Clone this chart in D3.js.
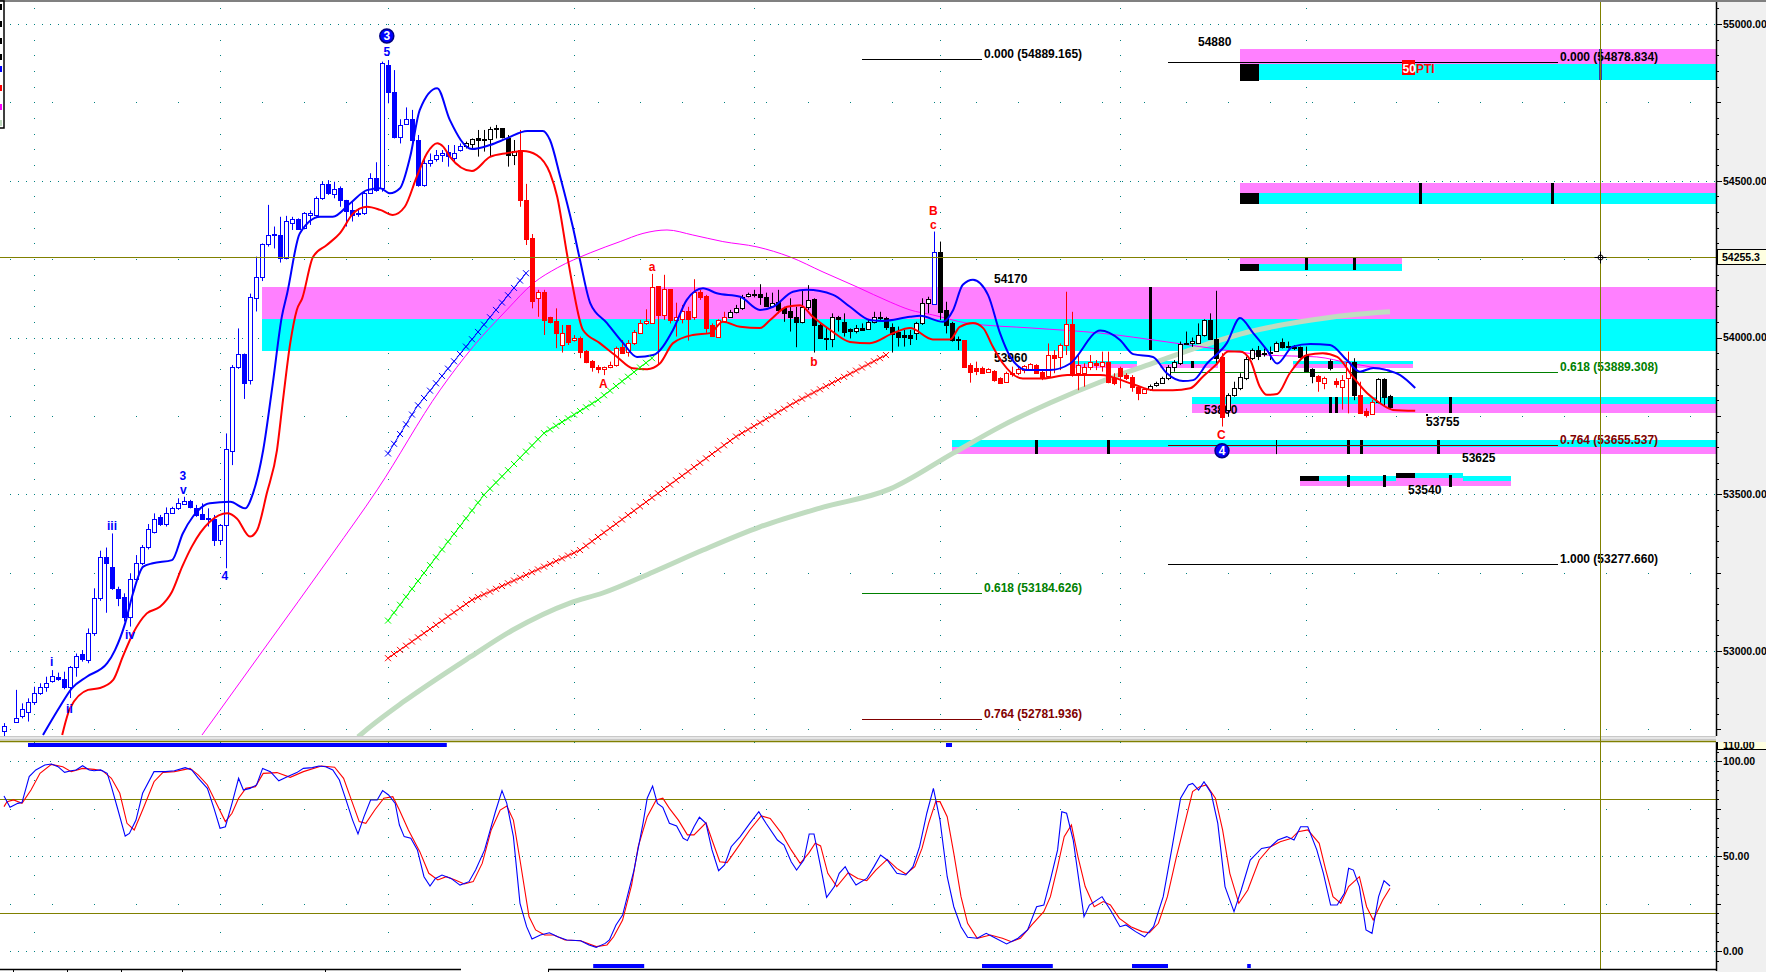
<!DOCTYPE html>
<html>
<head>
<meta charset="utf-8">
<script src="https://cdn.jsdelivr.net/npm/d3@7"></script>
<style>
body { margin:0; background:#fff; overflow:hidden; }
text { font-family:"Liberation Sans", Arial, sans-serif; font-weight:bold; font-size:12px; }
text.axis { font-size:10.5px; }
</style>
</head>
<body>
<script>
// ---- candles (one per bar) ----
var opens = [52745,52700,52775,52793,52806,52838,52865,52884,52905,52916,
52910,52886,52950,52990,52971,53056,53168,53301,53269,53197,
53173,53110,53229,53280,53333,53378,53426,53405,53439,53455,
53469,53478,53455,53436,53424,53420,53354,53401,53639,53907,
53946,53864,54127,54192,54297,54329,54326,54255,54366,54377,
54350,54391,54391,54444,54489,54457,54476,54439,54407,54396,
54396,54462,54508,54476,54869,54784,54641,54680,54696,54630,
54486,54556,54568,54582,54593,54573,54598,54612,54616,54635,
54633,54632,54667,54667,54635,54582,54598,54439,54316,54125,
54146,54064,54054,53976,54040,53992,53999,53958,53926,53907,
53898,53905,53912,53971,53955,53981,54015,54045,54047,54164,
54072,54154,54056,54058,54085,54064,54146,54132,54040,54003,
54053,54066,54082,54093,54132,54138,54140,54130,54100,54114,
54094,54085,54064,54050,54098,54122,54040,54000,53994,54064,
54048,54026,54022,54029,54027,54048,54066,54061,54035,54019,
54008,54008,54013,54045,54109,54107,54274,54088,54045,53994,
53992,53912,53902,53902,53891,53894,53870,53859,53888,53886,
53896,53898,53912,53891,53877,53944,53939,53976,54042,53886,
53886,53907,53918,53910,53923,53870,53904,53880,53875,53841,
53824,53835,53849,53856,53870,53905,53920,53979,53984,53984,
54008,54056,53994,53939,53769,53817,53838,53870,53934,53960,
53950,53950,53958,53987,53973,53971,53970,53944,53898,53877,
53854,53925,53862,53843,53870,53923,53817,53767,53756,53795,
53867,53813];
var highs = [52770,52720,52876,52833,52849,52886,52897,52918,52939,52931,
52934,52952,52992,53003,53072,53200,53320,53330,53375,53205,
53184,53248,53306,53338,53405,53439,53434,53458,53460,53487,
53492,53482,53466,53471,53455,53434,53405,53694,53912,54029,
53949,54140,54258,54300,54423,54354,54385,54388,54385,54380,
54400,54405,54450,54497,54502,54497,54482,54439,54433,54412,
54465,54524,54559,54880,54885,54853,54696,54734,54726,54646,
54577,54587,54598,54598,54614,54614,54619,54625,54635,54662,
54662,54672,54678,54667,54646,54630,54662,54490,54330,54152,
54152,54066,54093,54040,54040,54008,54003,53960,53928,53912,
53907,53923,53971,53992,53992,54024,54056,54090,54203,54164,
54200,54154,54111,54104,54098,54186,54152,54136,54045,54058,
54082,54088,54104,54136,54143,54152,54170,54143,54143,54152,
54098,54125,54098,54152,54167,54125,54045,54034,54077,54069,
54077,54029,54040,54045,54056,54082,54082,54066,54045,54035,
54024,54024,54050,54125,54130,54338,54306,54114,54050,54003,
53992,53918,53923,53907,53902,53896,53873,53891,53907,53907,
53912,53918,53915,53896,53981,53960,53981,54146,54082,53944,
53918,53944,53928,53955,53955,53886,53907,53886,53880,53848,
53838,53850,53859,53875,53912,53928,53987,54019,54000,54045,
54058,54077,54149,53950,53822,53859,53886,53939,53965,53973,
53965,53971,53987,53997,53987,53976,53971,53971,53902,53880,
53875,53930,53870,53880,53955,53934,53859,53774,53801,53870,
53870,53817];
var lows = [52700,52690,52772,52785,52775,52828,52860,52870,52899,52905,
52878,52850,52918,52966,52961,53048,53160,53122,53195,53143,
53094,53078,53220,53274,53324,53375,53399,53397,53437,53450,
53466,53455,53428,53418,53397,53335,53338,53264,53593,53900,
53804,53850,54083,54180,54290,54284,54239,54249,54343,54343,
54345,54359,54385,54439,54455,54444,54417,54354,54370,54385,
54391,54460,54465,54465,54747,54635,54619,54678,54625,54481,
54481,54545,54561,54560,54545,54560,54593,54603,54598,54577,
54593,54577,54635,54635,54545,54550,54417,54295,54093,54066,
54008,54045,53966,53952,53976,53987,53934,53918,53891,53886,
53880,53902,53907,53950,53939,53976,54011,54040,54045,53912,
54056,54045,54003,54045,53990,54056,54120,54015,54003,54003,
54050,54064,54077,54088,54128,54128,54104,54098,54098,54077,
54050,54019,53969,54045,54088,53952,53998,53960,53969,54019,
54003,53997,54013,54022,54024,54045,54056,54024,53952,53971,
53971,53976,53992,54040,54077,54104,54056,54013,53987,53960,
53905,53856,53880,53884,53888,53859,53854,53856,53875,53880,
53886,53894,53886,53864,53875,53886,53896,53944,53875,53832,
53843,53896,53896,53891,53854,53848,53838,53864,53827,53800,
53822,53830,53843,53854,53864,53891,53912,53976,53970,53981,
54003,53992,53918,53716,53748,53811,53832,53864,53928,53928,
53939,53928,53955,53965,53965,53960,53934,53891,53854,53827,
53835,53895,53840,53770,53758,53800,53758,53745,53753,53790,
53779,53769];
var closes = [52760,52710,52787,52814,52836,52867,52884,52899,52920,52910,
52884,52950,52985,52973,53056,53168,53301,53280,53200,53170,
53110,53229,53280,53331,53388,53420,53405,53439,53455,53471,
53478,53458,53434,53420,53420,53354,53401,53643,53907,53946,
53854,54128,54192,54297,54326,54326,54255,54372,54377,54347,
54396,54396,54444,54490,54460,54473,54439,54405,54391,54393,
54460,54508,54471,54875,54784,54641,54678,54696,54630,54486,
54556,54566,54582,54590,54580,54589,54612,54619,54632,54630,
54630,54664,54664,54640,54582,54595,54439,54313,54118,54146,
54056,54050,54015,54015,53985,53999,53954,53923,53905,53900,
53906,53912,53965,53952,53984,54019,54045,54052,54160,54072,
54154,54056,54066,54085,54058,54146,54130,54029,54005,54056,
54064,54082,54093,54128,54138,54140,54130,54100,54111,54088,
54077,54064,54048,54098,54120,54040,54000,53994,54064,54058,
54019,54022,54029,54024,54050,54066,54062,54035,54011,54003,
54003,54000,54045,54109,54122,54274,54082,54040,53992,53992,
53907,53891,53894,53886,53899,53864,53856,53886,53884,53899,
53909,53915,53888,53875,53944,53934,53976,54042,53886,53912,
53907,53921,53912,53923,53859,53856,53877,53870,53843,53824,
53835,53846,53856,53870,53905,53921,53979,53984,53990,54008,
54056,53994,53934,53748,53817,53838,53875,53930,53960,53941,
53946,53955,53984,53971,53969,53968,53939,53894,53877,53862,
53870,53902,53852,53864,53923,53817,53758,53753,53795,53867,
53811,53777];
// bar ranges and the candle colour set they use
var candleGroups = [[0,76,"b"],[77,85,"k"],[86,120,"r"],[121,154,"k"],[155,155,"b"],[156,159,"k"],
  [160,190,"r"],[191,202,"k"],[203,203,"r"],[204,218,"k"],[219,220,"r"],[221,221,"k"],[222,224,"r"],
  [225,225,"k"],[226,228,"r"],[229,231,"k"]];

// ---- overlay lines, [bar, price] ----
var blueBand = [[6.5,52732],[9.3,52822],[11.3,52881],[13.8,52918],[17.2,52961],[18.5,53003],[20.2,53089],[21.5,53184],
  [23.2,53269],[24.8,53280],[28,53290],[29.8,53375],[31.5,53429],[34.3,53471],[37.7,53476],[40.2,53455],[41.5,53503],
  [43.2,53641],[44.8,53854],[46.3,54066],[47.2,54141],[49.3,54332],[52.7,54385],[54.8,54385],[57.7,54428],[60.5,54470],
  [62.7,54476],[64.3,54460],[66,54476],[67.7,54577],[69.3,54726],[72.2,54795],[74.3,54694],[78,54601],[81,54614],
  [83.8,54635],[87.2,54659],[89.8,54659],[91,54630],[92.7,54513],[94.8,54353],[96,54247],[97.7,54110],[100.5,54046],
  [103.2,53982],[105.5,53938],[108.2,53944],[111.5,54024],[113.8,54120],[116.5,54157],[118.8,54141],[122.7,54130],
  [126,54088],[128.2,54098],[131.5,54146],[133.8,54152],[138.2,54136],[141,54098],[144.3,54056],[146.5,54053],
  [151,54066],[152.7,54069],[156.5,54050],[158.2,54088],[159.8,54168],[161.5,54184],[164,54136],[166,54014],
  [167.7,53939],[170.5,53896],[174.3,53896],[177.7,53917],[182.7,54022],[186,53992],[188.2,53947],[191.5,53938],
  [193.8,53886],[196.5,53861],[198.2,53864],[200.5,53917],[203.8,53982],[206,54062],[208.2,54014],[210.5,53960],
  [212.2,53917],[214.8,53971],[217.7,53979],[221,53976],[223.8,53928],[226,53891],[228.2,53903],[230.5,53896],
  [232.7,53880],[235.2,53839]];
var redBand = [[9.7,52732],[11,52817],[14,52876],[16,52882],[18.2,52908],[19.8,52982],[21.5,53056],[23.8,53120],
  [26,53141],[28,53189],[29.7,53269],[31.3,53333],[34.3,53412],[37.2,53439],[38.8,53423],[41,53365],[42.2,53386],
  [43.8,53503],[45.5,53641],[46.5,53801],[47.7,53981],[48.8,54088],[49.7,54125],[51.5,54257],[53.8,54295],[56,54333],
  [58.2,54396],[60.5,54417],[62.7,54407],[64.8,54391],[66.8,54417],[68.8,54513],[70.5,54588],[72.2,54620],[73.2,54609],
  [74.3,54577],[78,54531],[81,54576],[83.8,54588],[86.5,54595],[88.8,54582],[91,54524],[92.2,54449],[93.8,54270],
  [94.8,54162],[96.5,54024],[99.3,53982],[102.2,53938],[104.8,53902],[107.2,53899],[109.3,53917],[111.5,53982],
  [114.8,54008],[117.7,54014],[119.8,54050],[122.7,54034],[126,54030],[127.7,54056],[130.5,54098],[132.7,54103],
  [134.8,54066],[137.7,54024],[141,53986],[144.3,53982],[148.2,54014],[151,54030],[154.8,53994],[157.7,53994],
  [159.3,54034],[161.5,54046],[163.2,54030],[164.8,53971],[166.5,53917],[169.8,53869],[173.2,53869],[177.2,53880],
  [182.7,53880],[188.2,53851],[191.5,53832],[194.8,53832],[197.7,53838],[199.8,53875],[202.2,53917],[204,53955],
  [206,53955],[207.7,53928],[209.3,53843],[210.5,53817],[212.2,53820],[214.3,53886],[217.2,53944],[219.8,53950],
  [222.2,53938],[224.8,53875],[227.2,53822],[229.3,53791],[231.5,53769],[235.2,53766]];
var magentaMA = [[33,52732],[43.2,53003],[54.8,53312],[62.2,53514],[72.7,53833],[78.2,53971],[83.8,54088],[88.2,54173],
  [92.2,54222],[97.7,54270],[102.7,54306],[106.5,54332],[110.5,54343],[114.8,54327],[119.8,54306],[125.5,54289],
  [131,54257],[136.5,54209],[142.2,54161],[147.7,54113],[151,54088],[154.8,54072],[160.5,54046],[171.5,54030],
  [182.7,54014],[193.8,53986],[199.3,53971],[210.5,53944],[218.8,53938],[224.3,53918],[231,53896]];
var sageMA = [[59,52726],[61,52758],[66.5,52837],[77.7,52981],[84.8,53067],[94.3,53153],[99.8,53185],[108.2,53252],
  [116.5,53322],[126,53396],[136,53456],[147.7,53517],[158.2,53631],[166,53715],[174.3,53791],[182.7,53858],
  [191.5,53918],[199.3,53971],[207.7,54019],[216,54050],[224.3,54072],[231,54082]];
var blueCross = [[64,53630],[68.8,53779],[87,54205]];
var greenCross = [[64,53097],[71,53274],[80,53498],[90,53695],[99,53801],[108,53934]];
var redCross = [[64,52977],[78,53163],[96,53322],[109,53503],[122,53684],[132,53795],[147,53944]];

// ---- zones: [fromBar, toBar (null = right edge), top, middle, bottom, band order] ----
var zones = [
  [43, null, 54160, 54058, 53958, "mc"],
  [206, null, 54920, 54874, 54821, "mc"],
  [206, null, 54493, 54460, 54426, "mc"],
  [206, 233, 54256, 54234, 54213, "mc"],
  [178.5, 188.8, 53925, 53915, 53903, "cm"],
  [192.7, 202.3, 53925, 53915, 53903, "cm"],
  [214.8, 234.8, 53925, 53915, 53903, "cm"],
  [198, null, 53810, 53788, 53759, "cm"],
  [158, null, 53673, 53652, 53628, "cm"],
  [216, 251.2, 53558, 53542, 53526, "cm"],
  [232, 243.2, 53569, 53553, 53537, "cm"]];
var zoneBlocks = [[206,209.2,54874,54821],[206,209.2,54460,54426],[206,209.2,54234,54213],
  [216,219.2,53558,53542],[232,235.2,53569,53553]];
var zoneTicks = [[236,54493,54426],[258,54493,54426],[217,54256,54213],[225,54256,54213],[191,54160,53958],
  [198,53925,53903],[221,53810,53759],[222,53810,53759],[241,53810,53759],
  [172,53673,53628],[184,53673,53628],[224,53673,53628],[226.2,53673,53628],[239,53673,53628],
  [224,53561,53523],[230,53561,53523],[241,53561,53523]];
var thinTicks = [[212,53673,53628]];
var markerTick = [266, 54920, 54821];

// ---- fibonacci levels ----
var fibLeft = [[54889.165,"0.000"],[53184.626,"0.618"],[52781.936,"0.764"]];
var fibLeftSpan = [143, 163];
var fibRight = [[54878.834,"0.000"],[53889.308,"0.618"],[53655.537,"0.764"],[53277.660,"1.000"]];
var fibRightSpan = [194, 259];

// ---- annotations ----
var waveBlue = [[63.8,54911,"5"],[29.8,53559,"3"],[29.9,53514,"v"],[18,53400,"iii"],[21,53051,"iv"],
  [7.95,52966,"i"],[10.9,52817,"ii"],[36.8,53239,"4"]];
var waveRed = [[99.9,53852,"A"],[108,54226,"a"],[135,53923,"b"],[154.9,54404,"B"],[154.9,54359,"c"],[202.9,53689,"C"]];
var waveCircles = [[63.8,54962,"3"],[203,53639,"4"]];
var levelLabels = [[165,54187,"54170"],[165,53935,"53960"],[200,53769,"53800"],[237,53732,"53755"],
  [243,53616,"53625"],[234,53514,"53540"],[199,54943,"54880"]];

// ---- stochastic panel, [bar, value] ----
var stochK = [[0,81.6],[1,75.6],[2.3,77.7],[3,78.1],[4.2,91.8],[5.3,95.3],[6.8,97.9],[7.9,98.4],[9,97],[10.1,94],
  [11.2,94.9],[12,95.3],[13.1,97.5],[14.2,95.3],[15,94.9],[16.1,95.3],[17.2,93.5],[17.9,86.5],[19,74.2],[20.2,60.5],
  [20.9,61.9],[22,68.9],[23.1,83],[25,94.4],[26.9,94.4],[28.4,94.9],[30.2,96.5],[31.3,95.3],[32.4,90.9],[33.9,85.6],
  [35,75.1],[36,64.6],[36.9,65.4],[38,77.7],[39.1,90.9],[39.9,84.7],[41,85.6],[42.1,87.4],[43.1,96.1],[44.4,94.4],
  [45.8,89.6],[47.3,91.8],[48.8,93.9],[49.9,96.1],[51.4,96.5],[52.5,97.4],[53.6,97],[54.8,95.3],[55.9,90],[57,79.5],
  [58.1,68.9],[59,61.6],[60,70.7],[61.1,79.5],[62.2,79.5],[63.1,84.4],[64.1,82.1],[65.2,77.7],[65.9,66.3],[66.7,60.2],
  [67.8,59.3],[68.9,53.2],[70,39.1],[71,34.2],[71.9,38.2],[73,40],[74.5,38.2],[76,34.7],[77.5,36.5],[78.6,42.6],
  [80.1,53.2],[81.9,73.3],[83,84.4],[83.8,77.7],[84.9,60.2],[86,25.1],[87.1,12.8],[88,6.3],[89.4,8.4],[90.9,9.6],
  [92.3,7.5],[93.8,5.8],[96.1,5.4],[97.5,3.2],[98.7,1.9],[100.2,4],[100.9,5.8],[102,13.7],[103.1,18.9],[105,42.6],
  [106.5,67.2],[107.2,80.4],[108.1,86.8],[108.9,77.7],[109.8,75.6],[110.9,67.2],[112.1,65.8],[113.2,59.3],[113.9,58.1],
  [115,65.4],[115.9,70.4],[117,67.2],[118,53.2],[119.1,42.3],[120.1,45.3],[121.2,54.9],[122.7,60.2],[124.3,67.2],
  [125.8,73.3],[127,67.2],[128.9,58.4],[130,55.8],[131.2,47],[132.1,42.6],[133.3,47.9],[134.2,61.6],[135,61.6],
  [136.1,44.4],[137.1,28.2],[138.4,33.9],[139.2,40.9],[140.2,44.4],[141.1,39.1],[142,34.7],[143.8,38.2],[145,44.4],
  [146.1,50.5],[147.2,47.9],[148.8,40.9],[150.3,40],[151.5,44.4],[152.6,54.9],[153.8,72.5],[154.9,85.6],[156,68.9],
  [157.2,39.1],[158.3,23.3],[159.5,12.8],[160.6,7.2],[162.2,6.7],[163.7,9.3],[164.8,7.5],[167.1,3.7],[169,6.7],
  [170.6,11.1],[172.1,23.3],[173.3,24.2],[174.4,37.4],[175.6,53.2],[176.3,73.3],[177.1,72.5],[178.2,58.4],[180,18.1],
  [180.9,24.2],[183,28.6],[184.4,21.6],[186,12.8],[187,13.7],[188.6,10.2],[190.1,7.5],[191.6,12.8],[193.2,28.6],
  [194.7,54.9],[196.1,80.4],[197.4,87.4],[198.1,88.2],[199.1,84.7],[200,89.1],[201.2,83],[202.3,67.2],[203.5,33.9],
  [205,20.7],[206.2,32.1],[207.7,47.9],[209.6,54],[211.1,54.9],[212.3,58.4],[213.8,60.2],[215,58.4],[216.1,65.4],
  [217.3,65.4],[218.8,53.2],[219.9,40.9],[221.1,24.2],[222.2,24.2],[223.4,30.4],[224.1,43.5],[224.9,42.6],[225.9,33.9],
  [227,11.1],[228,9.3],[229.1,28.6],[230,37],[231,34.2]];
var stochD = [[0,76],[0.5,78.6],[1.6,79.5],[3,77.7],[4.5,84.7],[6,93.5],[7.9,98.2],[9.8,97],[11.2,94.4],[13.1,96.1],
  [15,95.6],[16.4,94.9],[17.9,90.9],[19.3,83],[20.5,67.2],[21.7,63.7],[23.1,74.2],[25,89.1],[26.5,94],[28.4,94.4],
  [31,96.1],[32.4,92.6],[33.9,87.4],[35.8,75.1],[36.9,68.1],[38,72.5],[39.1,80.4],[40.3,85.6],[41.9,86.5],[43.2,93.5],
  [45.5,93.9],[47.7,91.4],[49.9,94.4],[52.9,97.4],[55.1,96.7],[56.6,90.9],[58.1,77.7],[59.2,68.1],[60.3,67.2],
  [61.8,74.2],[63.3,80.4],[64.8,81.2],[65.9,74.2],[67.4,63.7],[69.3,52.3],[70.8,40.9],[72.3,37.4],[73.7,39.1],
  [75.2,37.4],[76.7,35.3],[78.2,36.5],[79.7,46.1],[81.2,63.7],[82.7,74.2],[83.8,76.3],[84.9,68.9],[86,47.9],
  [87.5,18.1],[88.6,11.1],[90.1,8.4],[91.6,8.4],[93.5,5.8],[96.1,5.4],[98.7,2.3],[100.5,3.2],[101.6,7.5],[103.1,16.3],
  [104.6,34.7],[105.7,54.9],[107.2,70.7],[108.7,79.5],[109.8,80.4],[110.9,75.1],[112.4,68.9],[113.9,61.1],[115,61.1],
  [117,67.5],[118.2,56.7],[119.3,47],[120.5,46.5],[122,53.2],[124.3,63.7],[126.2,71.1],[127.7,69.8],[129.6,61.9],
  [131.2,53.2],[132.7,46.1],[134.1,51.4],[135.2,56.7],[136.1,55.3],[137.3,40.9],[138.8,33.9],[140.7,41.2],[142.3,38.2],
  [143.8,37],[145.3,42.6],[147.2,48.2],[148.8,43.5],[150.3,40.5],[151.8,44.4],[153,54],[154.1,67.2],[155.3,78.6],
  [156,78.6],[157.2,70.7],[158.3,51.4],[159.5,28.6],[160.6,14.6],[162.2,6.7],[164.4,8.4],[166.4,6.7],[167.9,4.9],
  [169.4,6.7],[171.3,13.7],[173.3,20.7],[174.4,28.6],[175.6,44.4],[176.7,60.2],[177.9,66.3],[179,49.6],[180.2,33.9],
  [181.7,23.3],[183.2,26],[184.4,24.2],[185.9,17.2],[187.8,12.8],[189.7,10.2],[190.9,9.6],[192.4,14.6],[193.9,28.6],
  [195.4,49.6],[197,69.8],[198.1,83.9],[199.3,86.5],[200.4,87.4],[201.9,80.4],[203.1,63.7],[204.3,40.9],[205.8,25.1],
  [207.3,32.1],[209.2,47.9],[211.1,54.9],[212.7,57.5],[214.6,59.3],[215.7,62.8],[217.3,63.7],[219.2,56.7],[220.3,42.6],
  [221.5,28.6],[222.8,25.1],[224.1,33.9],[225.9,39.1],[227.1,23.3],[228.2,16.3],[229.8,26.8],[231,33]];
var signalTop = [[4,73.8],[157,158]];
var signalBottom = [[98.2,106.7],[163,174.8],[188,194],[207.2,207.8]];

// ---- axes / grid ----
var priceTicks = [53000, 53500, 54000, 54500, 55000];
var stochTicks = [0, 50, 100];
var stochLevels = [20, 80];
var dayBreaks = [5, 36, 64, 95, 125, 156, 186, 217];
var crossBar = 266, crossPrice = 54255.3;

var W = 1766, H = 972, AX = 1716;
var svg = d3.select("body").append("svg").attr("width", W).attr("height", H);

var x = d3.scaleLinear().domain([0, 285.3333]).range([4, AX]);
var y = d3.scaleLinear().domain([53000, 55000]).range([651, 24]);
var ys = d3.scaleLinear().domain([0, 100]).range([951, 761]);

var teal = "#008080", olive = "#808000", magenta = "#ff80ff", cyan = "#00ffff";
var palette = { b: "#0000ff", k: "#000000", r: "#ff0000" };

var defs = svg.append("defs");
defs.append("clipPath").attr("id", "cp").append("rect").attr("x", 0).attr("y", 2).attr("width", AX).attr("height", 734);
defs.append("clipPath").attr("id", "cs").append("rect").attr("x", 0).attr("y", 742).attr("width", AX).attr("height", 227);
defs.append("clipPath").attr("id", "ct").append("rect").attr("x", AX + 1).attr("y", 742).attr("width", 60).attr("height", 12);

// right axis background
svg.append("rect").attr("x", AX).attr("y", 0).attr("width", W - AX).attr("height", H).attr("fill", "#f0f0f0");

var gp = svg.append("g").attr("clip-path", "url(#cp)");
var gs = svg.append("g").attr("clip-path", "url(#cs)");

function px(v) { return Math.round(v) + 0.5; }

// ---------- price panel grid ----------
priceTicks.forEach(function(p){
  gp.append("line").attr("x1", 10).attr("x2", AX).attr("y1", px(y(p))).attr("y2", px(y(p)))
    .attr("stroke", teal).attr("stroke-dasharray", "1,7");
  gp.append("line").attr("x1", 10).attr("x2", AX).attr("y1", px(y(p - 250))).attr("y2", px(y(p - 250)))
    .attr("stroke", teal).attr("stroke-dasharray", "1,41");
});
gp.append("line").attr("x1", 10).attr("x2", AX).attr("y1", px(y(55250))).attr("y2", px(y(55250)))
  .attr("stroke", teal).attr("stroke-dasharray", "1,41");
dayBreaks.forEach(function(b){
  d3.range(52700, 55101, 50).forEach(function(p){
    gp.append("rect").attr("x", Math.round(x(b))).attr("y", Math.round(y(p))).attr("width", 1).attr("height", 1).attr("fill", teal);
  });
});

// ---------- zones ----------
zones.forEach(function(z){
  var x0 = Math.round(x(z[0])), x1 = z[1] === null ? AX : Math.round(x(z[1]));
  var c1 = z[5] === "mc" ? magenta : cyan, c2 = z[5] === "mc" ? cyan : magenta;
  gp.append("rect").attr("x", x0).attr("width", x1 - x0).attr("y", Math.round(y(z[2])))
    .attr("height", Math.round(y(z[3])) - Math.round(y(z[2]))).attr("fill", c1);
  gp.append("rect").attr("x", x0).attr("width", x1 - x0).attr("y", Math.round(y(z[3])))
    .attr("height", Math.round(y(z[4])) - Math.round(y(z[3]))).attr("fill", c2);
});
zoneBlocks.forEach(function(b){
  gp.append("rect").attr("x", Math.round(x(b[0]))).attr("width", Math.round(x(b[1]) - x(b[0])))
    .attr("y", Math.round(y(b[2]))).attr("height", Math.round(y(b[3]) - y(b[2]))).attr("fill", "#000");
});
zoneTicks.forEach(function(t){
  gp.append("rect").attr("x", Math.round(x(t[0])) - 1).attr("width", 3)
    .attr("y", Math.round(y(t[1]))).attr("height", Math.round(y(t[2]) - y(t[1]))).attr("fill", "#000");
});
thinTicks.forEach(function(t){
  gp.append("line").attr("x1", px(x(t[0]))).attr("x2", px(x(t[0]))).attr("y1", y(t[1])).attr("y2", y(t[2]))
    .attr("stroke", "#000");
});
gp.append("rect").attr("x", Math.round(x(markerTick[0])) - 1).attr("width", 3)
  .attr("y", Math.round(y(markerTick[1]))).attr("height", Math.round(y(markerTick[2]) - y(markerTick[1])))
  .attr("fill", "#3040a0");

// ---------- fibonacci ----------
var fibColor = { "0.000": "#000000", "0.618": "#008000", "0.764": "#800000", "1.000": "#000000" };
function drawFib(levels, span){
  levels.forEach(function(f){
    var yy = px(y(f[0]));
    gp.append("line").attr("x1", x(span[0])).attr("x2", x(span[1])).attr("y1", yy).attr("y2", yy)
      .attr("stroke", fibColor[f[1]]);
    gp.append("text").attr("x", x(span[1]) + 2).attr("y", yy - 2).attr("fill", fibColor[f[1]])
      .text(f[1] + " (" + f[0].toFixed(3) + ")");
  });
}
drawFib(fibLeft, fibLeftSpan);
drawFib(fibRight, fibRightSpan);

// ---------- long averages ----------
var priceLine = d3.line().x(function(d){ return x(d[0]); }).y(function(d){ return y(d[1]); }).curve(d3.curveMonotoneX);
gp.append("path").attr("d", priceLine(sageMA)).attr("fill", "none").attr("stroke", "#c0dcc0").attr("stroke-width", 5);
gp.append("path").attr("d", priceLine(magentaMA)).attr("fill", "none").attr("stroke", "#ff00ff").attr("stroke-width", 1);

// ---------- level labels ----------
levelLabels.forEach(function(l){
  gp.append("text").attr("x", x(l[0])).attr("y", y(l[1])).attr("dy", "0.35em").attr("fill", "#000").text(l[2]);
});
gp.append("rect").attr("x", Math.round(x(237))).attr("y", Math.round(y(53756))).attr("width", 2).attr("height", 2).attr("fill", "#000");
gp.append("rect").attr("x", Math.round(x(233))).attr("y", Math.round(y(54860)) - 8).attr("width", 13).attr("height", 15).attr("fill", "#ff0000");
gp.append("text").attr("x", Math.round(x(233)) + 0.5).attr("y", Math.round(y(54860)) + 5).attr("fill", "#fff").text("50");
gp.append("text").attr("x", Math.round(x(233)) + 14).attr("y", Math.round(y(54860)) + 5).attr("fill", "#ff0000").text("PTI");

// ---------- candles ----------
function groupOf(i){
  for (var k = 0; k < candleGroups.length; k++) if (i >= candleGroups[k][0] && i <= candleGroups[k][1]) return candleGroups[k][2];
  return "k";
}
var candles = gp.append("g").selectAll("g").data(d3.range(opens.length)).join("g");
candles.each(function(i){
  var g = d3.select(this), col = palette[groupOf(i)];
  var xc = Math.round(x(i));
  var o = opens[i], c = closes[i];
  g.append("line").attr("x1", xc + 0.5).attr("x2", xc + 0.5).attr("y1", y(highs[i])).attr("y2", y(lows[i]))
    .attr("stroke", col);
  var top = Math.round(y(Math.max(o, c))), bot = Math.round(y(Math.min(o, c)));
  g.append("rect").attr("x", xc - 1.5).attr("y", top + 0.5).attr("width", 4).attr("height", Math.max(1, bot - top))
    .attr("fill", c >= o ? "#fff" : col).attr("stroke", col);
});

// ---------- bands ----------
gp.append("path").attr("d", priceLine(blueBand)).attr("fill", "none").attr("stroke", "#0000ff").attr("stroke-width", 2);
gp.append("path").attr("d", priceLine(redBand)).attr("fill", "none").attr("stroke", "#ff0000").attr("stroke-width", 2);

// ---------- projection lines with x marks ----------
function crossLine(pts, col){
  var lin = d3.line().x(function(d){ return x(d[0]); }).y(function(d){ return y(d[1]); });
  gp.append("path").attr("d", lin(pts)).attr("fill", "none").attr("stroke", col).attr("stroke-width", 1);
  var onLine = d3.scaleLinear().domain(pts.map(function(d){ return d[0]; })).range(pts.map(function(d){ return d[1]; }));
  var marks = "";
  d3.range(Math.ceil(pts[0][0]), pts[pts.length - 1][0] + 0.01, 1).forEach(function(i){
    var cx = x(i), cy = y(onLine(i));
    marks += "M" + (cx - 3) + "," + (cy - 3) + "L" + (cx + 3) + "," + (cy + 3) +
             "M" + (cx - 3) + "," + (cy + 3) + "L" + (cx + 3) + "," + (cy - 3);
  });
  gp.append("path").attr("d", marks).attr("stroke", col).attr("stroke-width", 1).attr("fill", "none");
}
crossLine(greenCross, "#00ff00");
crossLine(redCross, "#ff0000");
crossLine(blueCross, "#0000ff");

// ---------- wave labels ----------
waveBlue.forEach(function(w){
  gp.append("text").attr("x", x(w[0])).attr("y", y(w[1])).attr("dy", "0.35em").attr("text-anchor", "middle")
    .attr("fill", "#0000ff").text(w[2]);
});
waveRed.forEach(function(w){
  gp.append("text").attr("x", x(w[0])).attr("y", y(w[1])).attr("dy", "0.35em").attr("text-anchor", "middle")
    .attr("fill", "#ff0000").attr("font-weight", "normal").text(w[2]);
});
waveCircles.forEach(function(w){
  gp.append("circle").attr("cx", x(w[0])).attr("cy", y(w[1])).attr("r", 7).attr("fill", "#0000ff")
    .attr("stroke", "#000080").attr("stroke-width", 1.5);
  gp.append("text").attr("x", x(w[0])).attr("y", y(w[1])).attr("dy", "0.36em").attr("text-anchor", "middle")
    .attr("fill", "#fff").attr("font-size", "11px").text(w[2]);
});

// ---------- crosshair ----------
gp.append("line").attr("x1", 0).attr("x2", AX).attr("y1", px(y(crossPrice))).attr("y2", px(y(crossPrice))).attr("stroke", olive);

// ---------- separator between panels ----------
svg.append("rect").attr("x", 0).attr("y", 736).attr("width", AX).attr("height", 5).attr("fill", "#e6e6e6");
svg.append("line").attr("x1", 0).attr("x2", AX).attr("y1", 736.5).attr("y2", 736.5).attr("stroke", "#c8c8c8");
svg.append("line").attr("x1", 0).attr("x2", AX).attr("y1", 739.5).attr("y2", 739.5).attr("stroke", "#c8c8c8");
svg.append("line").attr("x1", 0).attr("x2", AX).attr("y1", 741.5).attr("y2", 741.5).attr("stroke", olive).attr("stroke-width", 1.5);

// ---------- stochastic panel ----------
stochTicks.forEach(function(v){
  gs.append("line").attr("x1", 10).attr("x2", AX).attr("y1", px(ys(v))).attr("y2", px(ys(v)))
    .attr("stroke", teal).attr("stroke-dasharray", "1,7");
});
[25, 75].forEach(function(v){
  gs.append("line").attr("x1", 10).attr("x2", AX).attr("y1", px(ys(v))).attr("y2", px(ys(v)))
    .attr("stroke", teal).attr("stroke-dasharray", "1,41");
});
dayBreaks.forEach(function(b){
  d3.range(-10, 111, 10).forEach(function(v){
    gs.append("rect").attr("x", Math.round(x(b))).attr("y", Math.round(ys(v))).attr("width", 1).attr("height", 1).attr("fill", teal);
  });
});
stochLevels.forEach(function(v){
  gs.append("line").attr("x1", 0).attr("x2", AX).attr("y1", px(ys(v))).attr("y2", px(ys(v))).attr("stroke", olive).attr("stroke-width", 1.2);
});
var stLine = d3.line().x(function(d){ return x(d[0]); }).y(function(d){ return ys(d[1]); });
gs.append("path").attr("d", stLine(stochD)).attr("fill", "none").attr("stroke", "#ff0000").attr("stroke-width", 1.1);
gs.append("path").attr("d", stLine(stochK)).attr("fill", "none").attr("stroke", "#0000ff").attr("stroke-width", 1.1);
signalTop.forEach(function(s){
  gs.append("rect").attr("x", x(s[0])).attr("width", x(s[1]) - x(s[0])).attr("y", 743).attr("height", 4).attr("fill", "#0000ff");
});
signalBottom.forEach(function(s){
  gs.append("rect").attr("x", x(s[0])).attr("width", x(s[1]) - x(s[0])).attr("y", 964).attr("height", 4).attr("fill", "#0000ff");
});

// vertical olive cursor through both panels
svg.append("line").attr("x1", px(x(crossBar))).attr("x2", px(x(crossBar))).attr("y1", 2).attr("y2", 969).attr("stroke", olive);
var cxh = px(x(crossBar)), cyh = px(y(crossPrice));
svg.append("path").attr("d", "M" + (cxh - 6) + "," + cyh + "H" + (cxh + 6) + "M" + cxh + "," + (cyh - 6) + "V" + (cyh + 6))
  .attr("stroke", "#000");
svg.append("circle").attr("cx", cxh).attr("cy", cyh).attr("r", 2.5).attr("fill", "none").attr("stroke", "#000");

// ---------- right axis ----------
var ax = svg.append("g");
ax.append("line").attr("x1", AX + 0.5).attr("x2", AX + 0.5).attr("y1", 2).attr("y2", 736).attr("stroke", "#000").attr("stroke-width", 1.5);
ax.append("line").attr("x1", AX + 0.5).attr("x2", AX + 0.5).attr("y1", 742).attr("y2", 971).attr("stroke", "#000").attr("stroke-width", 1.5);
d3.range(52750, 55151, 50).forEach(function(p){
  var yy = px(y(p));
  if (yy < 3 || yy > 735) return;
  var len = p % 500 === 0 ? 5 : (p % 250 === 0 ? 4 : 2);
  ax.append("line").attr("x1", AX + 1).attr("x2", AX + 1 + len).attr("y1", yy).attr("y2", yy).attr("stroke", "#000");
});
priceTicks.forEach(function(p){
  ax.append("text").attr("class", "axis").attr("x", AX + 7).attr("y", y(p)).attr("dy", "0.36em").attr("fill", "#000").text(p.toFixed(2));
});
d3.range(-5, 106, 5).forEach(function(v){
  var yy = px(ys(v));
  if (yy < 744 || yy > 968) return;
  var len = v % 50 === 0 ? 5 : (v % 25 === 0 ? 4 : 2);
  ax.append("line").attr("x1", AX + 1).attr("x2", AX + 1 + len).attr("y1", yy).attr("y2", yy).attr("stroke", "#000");
});
stochTicks.forEach(function(v){
  ax.append("text").attr("class", "axis").attr("x", AX + 7).attr("y", ys(v)).attr("dy", "0.36em").attr("fill", "#000").text(v.toFixed(2));
});
// cursor value boxes
ax.append("rect").attr("x", AX + 1.5).attr("y", Math.round(y(crossPrice)) - 7.5).attr("width", 60).attr("height", 15)
  .attr("fill", "#ffffe1").attr("stroke", "#000");
ax.append("text").attr("class", "axis").attr("x", AX + 6).attr("y", y(crossPrice)).attr("dy", "0.36em").attr("fill", "#000").text(crossPrice.toFixed(1));
var tb = ax.append("g").attr("clip-path", "url(#ct)");
tb.append("rect").attr("x", AX + 1.5).attr("y", 736.5).attr("width", 60).attr("height", 13).attr("fill", "#ffffe1").attr("stroke", "#000");
tb.append("text").attr("class", "axis").attr("x", AX + 7).attr("y", 749).attr("fill", "#000").text("110.00");

// ---------- frame bits ----------
svg.append("line").attr("x1", 0).attr("x2", W).attr("y1", 1).attr("y2", 1).attr("stroke", "#808080").attr("stroke-width", 2);
svg.append("rect").attr("x", -3).attr("y", 1).attr("width", 7).attr("height", 127).attr("fill", "#fff").attr("stroke", "#000").attr("stroke-width", 1.5);
[[7,"#000"],[24,"#000"],[41,"#000"],[57,"#000"],[69,"#0000ff"],[88,"#ff0000"],[107,"#ff00ff"],[123,"#c0dcc0"]].forEach(function(m){
  svg.append("rect").attr("x", 0).attr("y", m[0] - 3).attr("width", 2).attr("height", 6).attr("fill", m[1]);
});
svg.append("line").attr("x1", 0).attr("x2", 461).attr("y1", 969.5).attr("y2", 969.5).attr("stroke", "#000").attr("stroke-width", 1.5);
svg.append("line").attr("x1", 548).attr("x2", AX).attr("y1", 969.5).attr("y2", 969.5).attr("stroke", "#000").attr("stroke-width", 1.5);
[13, 67, 121, 182, 325, 548].forEach(function(t){
  svg.append("line").attr("x1", t + 0.5).attr("x2", t + 0.5).attr("y1", 969).attr("y2", 972).attr("stroke", "#000");
});
</script>
</body>
</html>
